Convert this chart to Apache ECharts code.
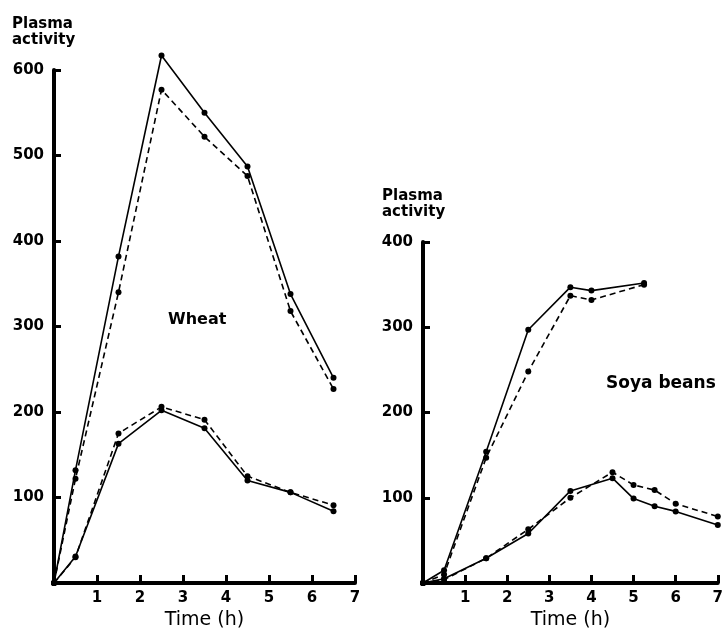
<!DOCTYPE html>
<html>
<head>
<meta charset="utf-8">
<script src="https://cdn.jsdelivr.net/npm/echarts@6/dist/echarts.min.js"></script>
<style>
  html, body { margin: 0; padding: 0; background: #fff; }
  #chart { width: 726px; height: 635px; }
</style>
</head>
<body>
<div id="chart"></div>
<script>
// 밀(Wheat) - 시간(h)별 혈장 활성도
var wheatTime = [0, 0.5, 1.5, 2.5, 3.5, 4.5, 5.5, 6.5];
var wheatUpperSolid = [0, 132, 382, 617, 550, 487, 338, 240];
var wheatUpperDashed = [0, 122, 340, 577, 522, 476, 318, 227];
var wheatLowerSolid = [0, 31, 163, 202, 181, 120, 106, 84];
var wheatLowerDashed = [0, 30, 175, 206, 191, 125, 106, 91];

// 대두(Soya beans)
var soyaUpperTime = [0, 0.5, 1.5, 2.5, 3.5, 4, 5.25];
var soyaUpperSolid = [0, 15, 154, 297, 347, 343, 352];
var soyaUpperDashed = [0, 10, 147, 248, 337, 332, 350];
var soyaLowerTime = [0, 0.5, 1.5, 2.5, 3.5, 4.5, 5, 5.5, 6, 7];
var soyaLowerSolid = [0, 5, 29, 58, 108, 123, 99, 90, 84, 68];
var soyaLowerDashed = [0, 4, 29, 63, 100, 130, 115, 109, 93, 78];

var xTicks = [0, 7, 1];       // min, max, interval
var wheatYTicks = [0, 600, 100];
var soyaYTicks = [0, 400, 100];

var FONT = 'DejaVu Sans';

const pairs = (xs, ys) => xs.map((x, i) => [x, ys[i]]);

const makeX = (gridIndex) => ({
  gridIndex: gridIndex,
  type: 'value',
  min: xTicks[0], max: xTicks[1], interval: xTicks[2],
  axisLine: { show: true, onZero: false, lineStyle: { color: '#000', width: 4 } },
  axisTick: { inside: true, length: 8, lineStyle: { color: '#000', width: 3 } },
  axisLabel: {
    formatter: v => (v === 0 ? '' : v),
    color: '#000', fontFamily: FONT, fontWeight: 'bold', fontSize: 15, margin: 8
  },
  splitLine: { show: false },
  name: 'Time (h)',
  nameLocation: 'middle',
  nameGap: 28,
  nameTextStyle: { color: '#000', fontFamily: FONT, fontSize: 19 }
});

const makeY = (gridIndex, ticks) => ({
  gridIndex: gridIndex,
  type: 'value',
  min: ticks[0], max: ticks[1], interval: ticks[2],
  axisLine: { show: true, onZero: false, lineStyle: { color: '#000', width: 4 } },
  axisTick: { inside: true, length: 7, lineStyle: { color: '#000', width: 3 } },
  axisLabel: {
    formatter: v => (v === 0 ? '' : v),
    color: '#000', fontFamily: FONT, fontWeight: 'bold', fontSize: 15, margin: 10
  },
  splitLine: { show: false }
});

const makeLine = (idx, data, dashed) => ({
  type: 'line',
  xAxisIndex: idx,
  yAxisIndex: idx,
  data: data,
  clip: false,
  symbol: 'circle',
  symbolSize: 6,
  itemStyle: { color: '#000' },
  lineStyle: { color: '#000', width: 1.6, type: dashed ? [6, 4] : 'solid' },
  z: dashed ? 3 : 2
});

const label = (text, x, y, size) => ({
  type: 'text',
  x: x, y: y,
  style: { text: text, fill: '#000', font: 'bold ' + size + 'px "' + FONT + '"', lineHeight: 16 }
});

let myChart = echarts.init(document.getElementById('chart'), null, { renderer: 'canvas' });

let option = {
  animation: false,
  backgroundColor: '#fff',
  grid: [
    { left: 54, right: 371, top: 70, bottom: 40 },
    { left: 423, right: 3, top: 242, bottom: 40 }
  ],
  xAxis: [makeX(0), makeX(1)],
  yAxis: [makeY(0, wheatYTicks), makeY(1, soyaYTicks)],
  graphic: [
    label('Plasma\nactivity', 12, 16, 15),
    label('Plasma\nactivity', 382, 188, 15),
    label('Wheat', 168, 312, 16),
    label('Soya beans', 606, 376, 17)
  ],
  series: [
    makeLine(0, pairs(wheatTime, wheatUpperSolid), false),
    makeLine(0, pairs(wheatTime, wheatUpperDashed), true),
    makeLine(0, pairs(wheatTime, wheatLowerSolid), false),
    makeLine(0, pairs(wheatTime, wheatLowerDashed), true),
    makeLine(1, pairs(soyaUpperTime, soyaUpperSolid), false),
    makeLine(1, pairs(soyaUpperTime, soyaUpperDashed), true),
    makeLine(1, pairs(soyaLowerTime, soyaLowerSolid), false),
    makeLine(1, pairs(soyaLowerTime, soyaLowerDashed), true)
  ]
};

option && myChart.setOption(option);
</script>
</body>
</html>
